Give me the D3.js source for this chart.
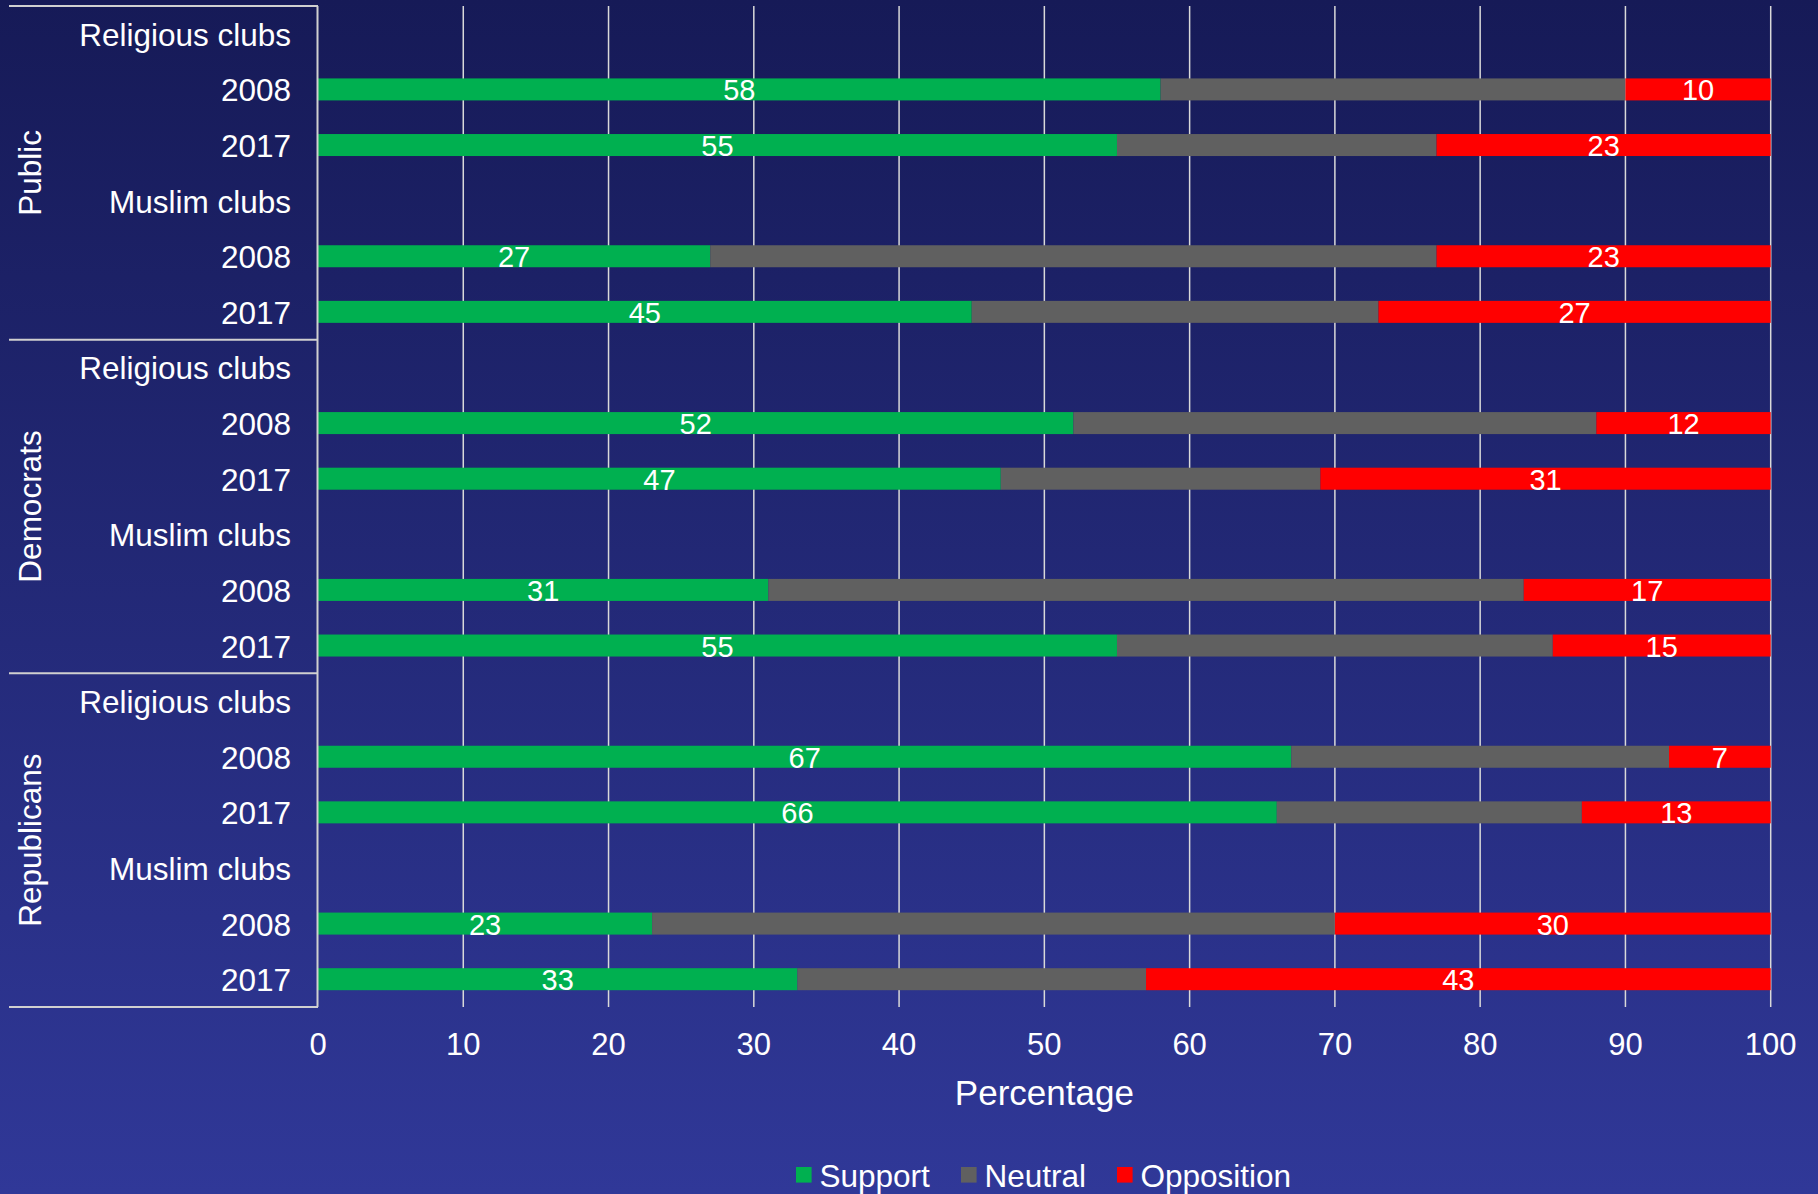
<!DOCTYPE html>
<html>
<head>
<meta charset="utf-8">
<script src="https://cdn.jsdelivr.net/npm/d3@7"></script>
<style>
html,body{margin:0;padding:0;background:#2a3188;}
svg{display:block;}
text{font-family:"Liberation Sans",Arial,sans-serif;fill:#ffffff;}
</style>
</head>
<body>
<svg id="chart" width="1818" height="1194"></svg>
<script>
const groups = ["Public", "Democrats", "Republicans"];
const clubs = ["Religious clubs", "Muslim clubs"];
const years = ["2008", "2017"];
// order: group -> club -> year
const support    = [58, 55, 27, 45, 52, 47, 31, 55, 67, 66, 23, 33];
const neutral    = [32, 22, 50, 28, 36, 22, 52, 30, 26, 21, 47, 24];
const opposition = [10, 23, 23, 27, 12, 31, 17, 15,  7, 13, 30, 43];
const seriesNames = ["Support", "Neutral", "Opposition"];
const seriesColors = ["#00b050", "#606060", "#ff0000"];
const xTicks = [0, 10, 20, 30, 40, 50, 60, 70, 80, 90, 100];
const xTitle = "Percentage";

(function () {
const svg = d3.select("#chart");
const W = 1818, H = 1194;

// background gradient
const defs = svg.append("defs");
const grad = defs.append("linearGradient").attr("id", "bg").attr("x1", 0).attr("y1", 0).attr("x2", 0).attr("y2", 1);
grad.append("stop").attr("offset", "0%").attr("stop-color", "#161a57");
grad.append("stop").attr("offset", "100%").attr("stop-color", "#303898");
svg.append("rect").attr("width", W).attr("height", H).attr("fill", "url(#bg)");

// build rows
const rows = [];
let k = 0;
groups.forEach((g, gi) => {
  clubs.forEach((c, ci) => {
    rows.push({id: `${gi}-${ci}-h`, label: c, header: true, group: gi});
    years.forEach((yv, yi) => {
      rows.push({id: `${gi}-${ci}-${yi}`, label: yv, header: false, group: gi,
        vals: [support[k], neutral[k], opposition[k]]});
      k++;
    });
  });
});

const x = d3.scaleLinear().domain([0, 100]).range([318, 1770.7]);
const y = d3.scaleBand().domain(rows.map(r => r.id)).range([6, 1007]).padding(0);
const barH = 22;
const plotTop = 6, plotBottom = 1007;

// gridlines
svg.append("g").selectAll("line").data(xTicks.slice(1)).join("line")
  .attr("x1", d => x(d)).attr("x2", d => x(d))
  .attr("y1", plotTop).attr("y2", plotBottom)
  .attr("stroke", "#d9d9d9").attr("stroke-width", 1.5);

// bars
const barRows = rows.filter(r => !r.header);
const barG = svg.append("g");
barRows.forEach(r => {
  let acc = 0;
  const cy = y(r.id) + y.bandwidth() / 2;
  r.vals.forEach((v, i) => {
    barG.append("rect")
      .attr("x", x(acc)).attr("width", x(acc + v) - x(acc))
      .attr("y", cy - barH / 2).attr("height", barH)
      .attr("fill", seriesColors[i]);
    if (i !== 1) {
      barG.append("text")
        .attr("x", x(acc + v / 2)).attr("y", cy + 1)
        .attr("text-anchor", "middle").attr("dominant-baseline", "central")
        .attr("font-size", 29).text(v);
    }
    acc += v;
  });
});

// axis line and separators
const lineCol = "#d0d0d0";
svg.append("line").attr("x1", 317.5).attr("x2", 317.5).attr("y1", plotTop).attr("y2", plotBottom)
  .attr("stroke", lineCol).attr("stroke-width", 2);
const sepYs = [plotTop, y(rows[6].id), y(rows[12].id), plotBottom];
svg.append("g").selectAll("line").data(sepYs).join("line")
  .attr("x1", 9).attr("x2", 318).attr("y1", d => d).attr("y2", d => d)
  .attr("stroke", lineCol).attr("stroke-width", 2);

// row labels
svg.append("g").selectAll("text").data(rows).join("text")
  .attr("x", 291).attr("y", d => y(d.id) + y.bandwidth() / 2 + 1)
  .attr("text-anchor", "end").attr("dominant-baseline", "central")
  .attr("font-size", 31.5).text(d => d.label);

// group labels
groups.forEach((g, gi) => {
  const y0 = y(rows[gi * 6].id), y1 = y(rows[gi * 6 + 5].id) + y.bandwidth();
  const cy = (y0 + y1) / 2;
  svg.append("text")
    .attr("transform", `translate(30,${cy}) rotate(-90)`)
    .attr("text-anchor", "middle").attr("dominant-baseline", "central")
    .attr("font-size", 31.5).text(g);
});

// x tick labels
svg.append("g").selectAll("text").data(xTicks).join("text")
  .attr("x", d => x(d)).attr("y", 1044)
  .attr("text-anchor", "middle").attr("dominant-baseline", "central")
  .attr("font-size", 31).text(d => d);

svg.append("text").attr("x", (x(0) + x(100)) / 2).attr("y", 1092)
  .attr("text-anchor", "middle").attr("dominant-baseline", "central")
  .attr("font-size", 35).text(xTitle);

// legend
const legX = [796, 961, 1117];
const leg = svg.append("g");
seriesNames.forEach((n, i) => {
  leg.append("rect").attr("x", legX[i]).attr("y", 1167).attr("width", 15.6).attr("height", 15.6)
    .attr("fill", seriesColors[i]);
  leg.append("text").attr("x", legX[i] + 23.5).attr("y", 1176)
    .attr("dominant-baseline", "central").attr("font-size", 31.5).text(n);
});
})();
</script>
</body>
</html>
